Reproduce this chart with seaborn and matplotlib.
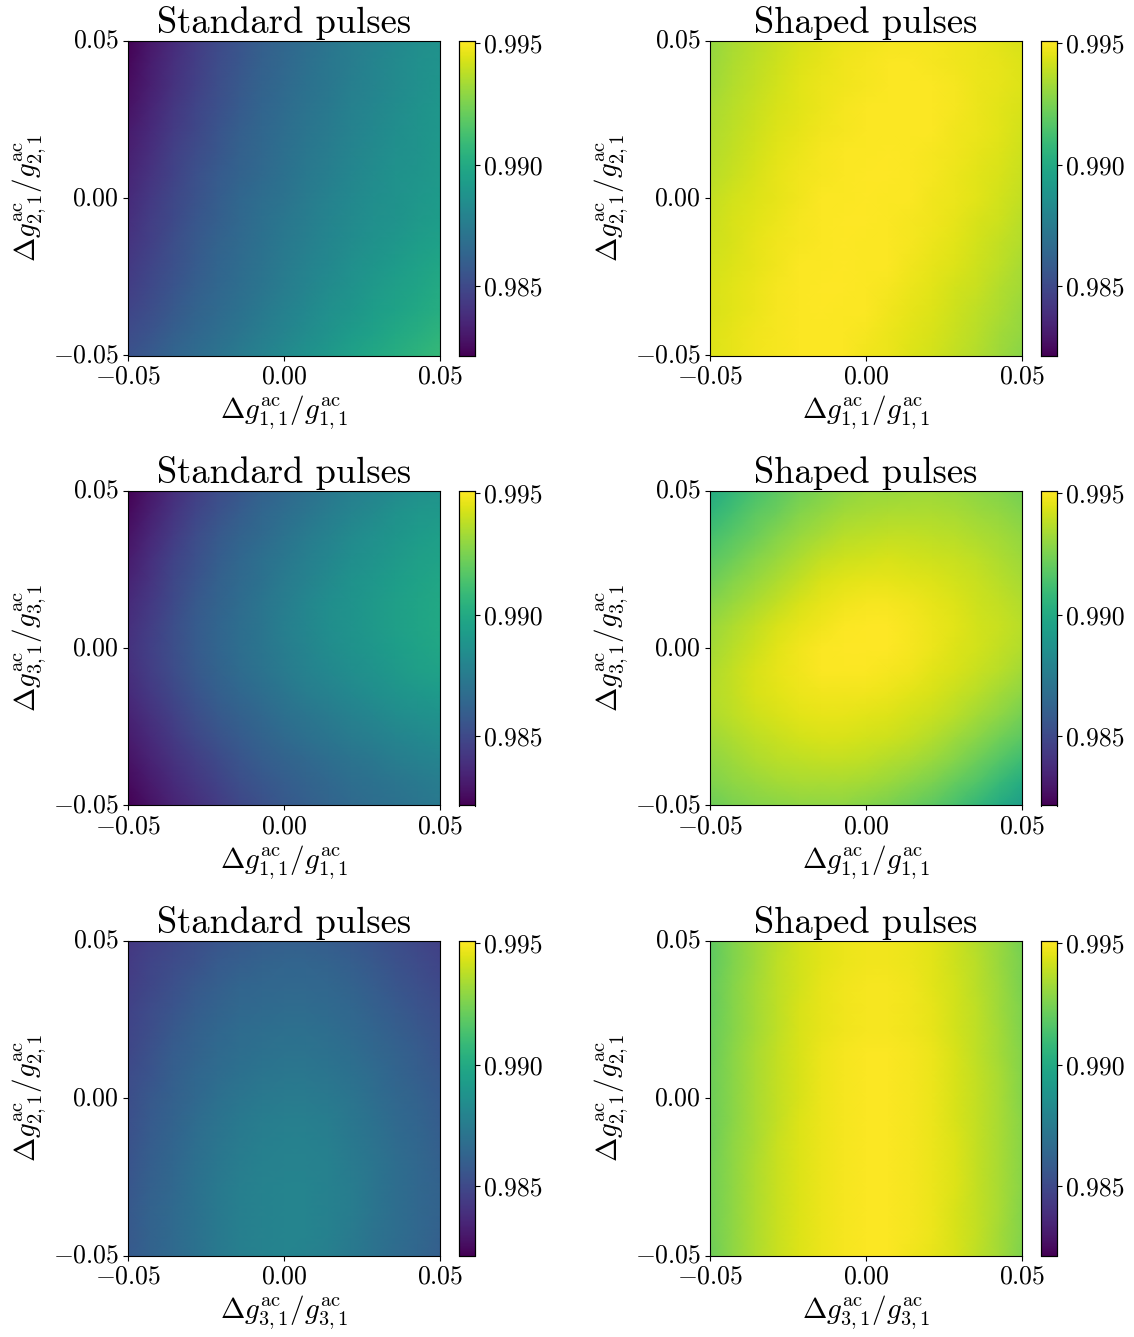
import numpy as np
import pandas as pd
import matplotlib
matplotlib.use('Agg')
import matplotlib.pyplot as plt
import seaborn as sns

sns.set_theme(style='white')
plt.rcParams['font.family'] = ['cmr10', 'DejaVu Sans']
plt.rcParams['mathtext.fontset'] = 'cm'
plt.rcParams['axes.unicode_minus'] = False
plt.rcParams['axes.formatter.use_mathtext'] = True

# fidelity, in units of 1e-4 above 0.98 (top row first)
std_21_11 = [
    [22, 30, 37, 44, 50, 55, 60, 64, 68, 72, 76, 79, 82, 85, 87],
    [24, 32, 39, 45, 51, 56, 61, 65, 69, 73, 76, 80, 83, 86, 88],
    [26, 33, 40, 46, 52, 57, 62, 66, 70, 73, 77, 80, 83, 86, 89],
    [28, 35, 42, 48, 53, 58, 63, 67, 71, 74, 78, 81, 84, 87, 90],
    [31, 37, 44, 49, 55, 60, 64, 68, 72, 75, 79, 82, 85, 88, 90],
    [33, 39, 46, 51, 56, 61, 65, 69, 73, 76, 80, 83, 86, 88, 91],
    [35, 41, 47, 53, 58, 62, 66, 70, 74, 77, 81, 84, 87, 89, 91],
    [37, 43, 49, 54, 59, 64, 68, 71, 75, 79, 82, 85, 87, 90, 92],
    [39, 45, 50, 56, 60, 65, 69, 73, 76, 80, 83, 86, 88, 91, 93],
    [41, 46, 52, 57, 62, 66, 70, 74, 77, 81, 84, 87, 90, 93, 95],
    [43, 48, 53, 58, 63, 67, 71, 75, 79, 82, 86, 89, 92, 95, 98],
    [45, 50, 55, 60, 64, 68, 72, 76, 80, 84, 87, 91, 94, 97, 100],
    [48, 52, 57, 62, 66, 70, 74, 78, 82, 86, 89, 93, 96, 99, 102],
    [51, 55, 60, 64, 68, 72, 76, 80, 84, 88, 92, 95, 99, 102, 105],
    [54, 58, 63, 67, 71, 75, 79, 83, 87, 91, 95, 99, 102, 105, 108],
]
shp_21_11 = [
    [130, 134, 137, 140, 143, 145, 147, 148, 149, 149, 149, 148, 147, 145, 143],
    [131, 135, 138, 141, 144, 146, 148, 149, 150, 150, 149, 148, 147, 146, 144],
    [132, 136, 139, 142, 145, 147, 148, 149, 150, 150, 150, 149, 147, 146, 144],
    [134, 137, 140, 143, 145, 147, 149, 150, 150, 150, 150, 149, 147, 145, 143],
    [135, 138, 141, 144, 146, 148, 149, 150, 150, 150, 150, 148, 147, 145, 142],
    [136, 139, 142, 145, 147, 149, 150, 150, 151, 150, 149, 148, 146, 144, 141],
    [137, 140, 143, 146, 148, 149, 150, 151, 151, 150, 149, 147, 145, 143, 140],
    [139, 142, 144, 146, 148, 150, 150, 151, 150, 150, 148, 147, 145, 142, 139],
    [140, 143, 145, 147, 149, 150, 151, 151, 150, 149, 148, 146, 143, 141, 137],
    [141, 143, 146, 148, 149, 150, 151, 150, 150, 149, 147, 145, 142, 139, 136],
    [142, 144, 146, 148, 150, 150, 151, 150, 150, 148, 146, 144, 141, 138, 134],
    [143, 145, 147, 149, 150, 151, 151, 150, 149, 147, 145, 142, 140, 136, 133],
    [143, 145, 147, 149, 150, 151, 150, 150, 148, 146, 144, 141, 138, 135, 131],
    [144, 146, 148, 149, 150, 150, 150, 149, 147, 145, 143, 140, 137, 133, 130],
    [144, 146, 148, 149, 150, 150, 150, 148, 147, 144, 142, 139, 136, 132, 128],
]
std_31_11 = [
    [22, 30, 38, 45, 51, 56, 61, 65, 69, 73, 77, 80, 83, 86, 88],
    [25, 33, 41, 48, 54, 59, 64, 68, 72, 76, 80, 83, 87, 90, 91],
    [28, 36, 44, 51, 57, 62, 66, 71, 75, 79, 83, 86, 89, 92, 94],
    [31, 39, 47, 53, 59, 64, 69, 73, 77, 81, 85, 88, 91, 94, 96],
    [34, 41, 49, 55, 61, 66, 70, 75, 79, 83, 87, 90, 93, 96, 98],
    [37, 43, 50, 57, 62, 67, 72, 76, 81, 85, 88, 91, 94, 97, 99],
    [39, 45, 52, 58, 63, 68, 72, 77, 81, 85, 88, 91, 94, 97, 99],
    [40, 46, 52, 58, 63, 68, 72, 76, 80, 84, 87, 90, 93, 96, 98],
    [39, 45, 51, 57, 62, 67, 71, 75, 79, 82, 85, 88, 91, 94, 96],
    [37, 43, 49, 55, 60, 64, 68, 72, 76, 79, 82, 85, 88, 90, 92],
    [34, 40, 46, 52, 57, 61, 65, 69, 72, 75, 78, 81, 84, 86, 88],
    [31, 37, 43, 49, 54, 58, 62, 66, 69, 72, 75, 77, 80, 82, 84],
    [28, 34, 40, 45, 50, 55, 59, 62, 65, 68, 71, 73, 76, 78, 80],
    [25, 31, 37, 42, 47, 52, 56, 59, 62, 65, 68, 70, 72, 74, 76],
    [22, 28, 34, 39, 44, 49, 53, 57, 60, 63, 66, 68, 70, 72, 74],
]
shp_31_11 = [
    [100, 107, 113, 118, 123, 126, 129, 131, 131, 132, 132, 131, 129, 127, 124],
    [106, 112, 118, 122, 127, 130, 133, 134, 135, 135, 135, 134, 132, 130, 127],
    [112, 117, 122, 127, 131, 134, 137, 138, 139, 139, 138, 137, 135, 133, 130],
    [117, 122, 127, 131, 135, 139, 141, 142, 143, 142, 141, 140, 138, 135, 132],
    [122, 127, 131, 135, 139, 143, 145, 146, 146, 145, 144, 142, 140, 137, 134],
    [127, 131, 135, 139, 143, 146, 148, 149, 149, 148, 146, 144, 141, 139, 136],
    [131, 135, 139, 143, 146, 148, 150, 151, 151, 149, 147, 145, 142, 140, 137],
    [133, 137, 141, 145, 148, 150, 151, 151, 151, 149, 147, 144, 142, 139, 136],
    [135, 139, 143, 146, 148, 150, 150, 150, 149, 148, 145, 143, 140, 137, 133],
    [136, 139, 143, 145, 147, 148, 148, 148, 147, 145, 143, 140, 137, 133, 129],
    [135, 138, 141, 143, 145, 146, 146, 145, 144, 142, 140, 137, 133, 129, 124],
    [132, 135, 138, 140, 142, 143, 143, 142, 141, 139, 136, 132, 128, 123, 118],
    [129, 132, 135, 137, 138, 139, 139, 138, 136, 134, 131, 127, 122, 116, 110],
    [126, 129, 131, 133, 134, 134, 134, 133, 131, 128, 125, 120, 115, 108, 101],
    [122, 125, 127, 128, 129, 129, 129, 127, 125, 122, 118, 113, 107, 100, 93],
]
std_21_31 = [
    [42, 46, 49, 52, 55, 57, 59, 60, 60, 59, 57, 55, 52, 49, 46],
    [44, 48, 51, 54, 58, 60, 62, 63, 63, 62, 60, 57, 54, 51, 48],
    [45, 49, 53, 57, 60, 63, 64, 65, 65, 64, 62, 59, 56, 53, 50],
    [47, 51, 55, 59, 62, 65, 66, 67, 67, 66, 64, 61, 58, 55, 52],
    [48, 52, 57, 61, 64, 67, 68, 69, 69, 68, 66, 63, 60, 57, 54],
    [49, 54, 59, 62, 66, 68, 70, 71, 71, 70, 68, 65, 62, 59, 55],
    [51, 55, 60, 64, 67, 70, 72, 73, 73, 72, 70, 67, 63, 60, 57],
    [52, 57, 61, 65, 69, 72, 74, 75, 75, 74, 72, 68, 65, 62, 58],
    [53, 58, 62, 67, 71, 74, 76, 77, 77, 76, 73, 70, 66, 63, 59],
    [54, 59, 63, 68, 72, 75, 77, 78, 78, 77, 74, 71, 67, 64, 60],
    [55, 60, 64, 69, 73, 76, 78, 79, 79, 78, 75, 72, 68, 65, 61],
    [56, 61, 65, 70, 74, 77, 79, 80, 80, 78, 76, 72, 68, 65, 62],
    [57, 62, 66, 70, 74, 77, 79, 80, 80, 78, 76, 72, 68, 65, 62],
    [57, 62, 66, 70, 74, 77, 79, 80, 80, 78, 75, 71, 68, 65, 61],
    [58, 62, 66, 70, 74, 77, 79, 80, 79, 77, 74, 71, 67, 64, 60],
]
shp_21_31 = [
    [119, 126, 132, 137, 142, 145, 147, 148, 148, 147, 145, 141, 136, 131, 124],
    [119, 126, 132, 138, 142, 145, 147, 148, 148, 147, 145, 141, 137, 131, 125],
    [120, 127, 133, 138, 142, 146, 148, 149, 149, 148, 145, 142, 137, 132, 125],
    [120, 127, 133, 138, 143, 146, 148, 149, 149, 148, 146, 142, 138, 132, 126],
    [121, 127, 133, 138, 143, 146, 148, 149, 149, 148, 146, 142, 138, 133, 126],
    [121, 128, 134, 139, 143, 147, 149, 150, 150, 149, 147, 143, 138, 133, 127],
    [122, 128, 134, 139, 143, 147, 149, 150, 150, 149, 147, 143, 139, 134, 127],
    [122, 128, 134, 139, 143, 147, 149, 150, 150, 149, 147, 143, 139, 134, 127],
    [122, 128, 134, 139, 144, 147, 149, 150, 150, 149, 147, 143, 139, 134, 128],
    [122, 129, 134, 140, 144, 147, 149, 150, 150, 149, 147, 144, 139, 134, 128],
    [123, 129, 135, 140, 144, 147, 149, 150, 150, 149, 147, 144, 139, 134, 128],
    [123, 129, 135, 140, 144, 147, 149, 150, 150, 149, 147, 144, 139, 134, 128],
    [123, 129, 135, 140, 144, 147, 149, 150, 150, 149, 147, 143, 139, 134, 127],
    [123, 129, 135, 140, 144, 147, 149, 150, 150, 149, 147, 143, 139, 133, 127],
    [122, 129, 135, 140, 144, 147, 149, 150, 150, 148, 146, 143, 138, 133, 126],
]

titles = ['Standard pulses', 'Shaped pulses']
axis_ticks = ['$-0.05$', '$0.00$', '$0.05$']
cbar_ticks = [0.985, 0.990, 0.995]
cbar_labels = ['0.985', '0.990', '0.995']
vmin = 0.98216
vmax = 0.99508


def lab(i, j):
    return r'$\Delta g^{\mathrm{ac}}_{%d,%d}/g^{\mathrm{ac}}_{%d,%d}$' % (i, j, i, j)


panels = [
    (std_21_11, shp_21_11, lab(1, 1), lab(2, 1)),
    (std_31_11, shp_31_11, lab(1, 1), lab(3, 1)),
    (std_21_31, shp_21_31, lab(3, 1), lab(2, 1)),
]

W, H = 1134, 1337
fig = plt.figure(figsize=(W / 100, H / 100), dpi=100)


def pixel_axes(x0, y0, x1, y1):
    return fig.add_axes([x0 / W, 1 - y1 / H, (x1 - x0) / W, (y1 - y0) / H])


tops = [41, 491, 941]
lefts = [128, 710]
for r, (a, b, xl, yl) in enumerate(panels):
    for c, grid in enumerate([a, b]):
        y0 = tops[r]
        y1 = y0 + 314.5
        x0 = lefts[c]
        ax = pixel_axes(x0, y0, x0 + 312, y1)
        cax = pixel_axes(x0 + 331, y0, x0 + 347, y1)
        df = pd.DataFrame(0.98 + np.array(grid) / 1e4)
        # values sit on grid nodes, smooth shading between them
        sns.heatmap(df, ax=ax, cbar_ax=cax, cmap='viridis', vmin=vmin, vmax=vmax,
                    xticklabels=False, yticklabels=False, shading='gouraud')
        n = df.shape[0] - 1
        ax.set_xlim(0, n)
        ax.set_ylim(n, 0)
        ax.set_xticks([0, n / 2, n])
        ax.set_xticklabels(axis_ticks, fontsize=18.5, rotation=0)
        ax.set_yticks([n, n / 2, 0])
        ax.set_yticklabels(axis_ticks, fontsize=18.5, rotation=0, va='center')
        ax.tick_params(axis='both', length=3.5, width=0.8, color='black', pad=3,
                       bottom=True, left=True, labelcolor='black')
        ax.set_xlabel(xl, fontsize=21, labelpad=4, color='black')
        ax.set_ylabel(yl, fontsize=21, labelpad=3, color='black')
        ax.set_title(titles[c], fontsize=26.3, pad=6, color='black')
        for s in ax.spines.values():
            s.set_visible(True)
            s.set_color('black')
            s.set_linewidth(0.8)
        cax.set_facecolor('#440154')
        cax.set_yticks(cbar_ticks)
        cax.set_yticklabels(cbar_labels, fontsize=18.5, color='black', va='center_baseline')
        cax.tick_params(axis='y', right=True, length=3.5, width=0.8, color='black', pad=3)
        for s in cax.spines.values():
            s.set_visible(True)
            s.set_color('black')
            s.set_linewidth(0.8)

fig.savefig('out.png', dpi=100)
